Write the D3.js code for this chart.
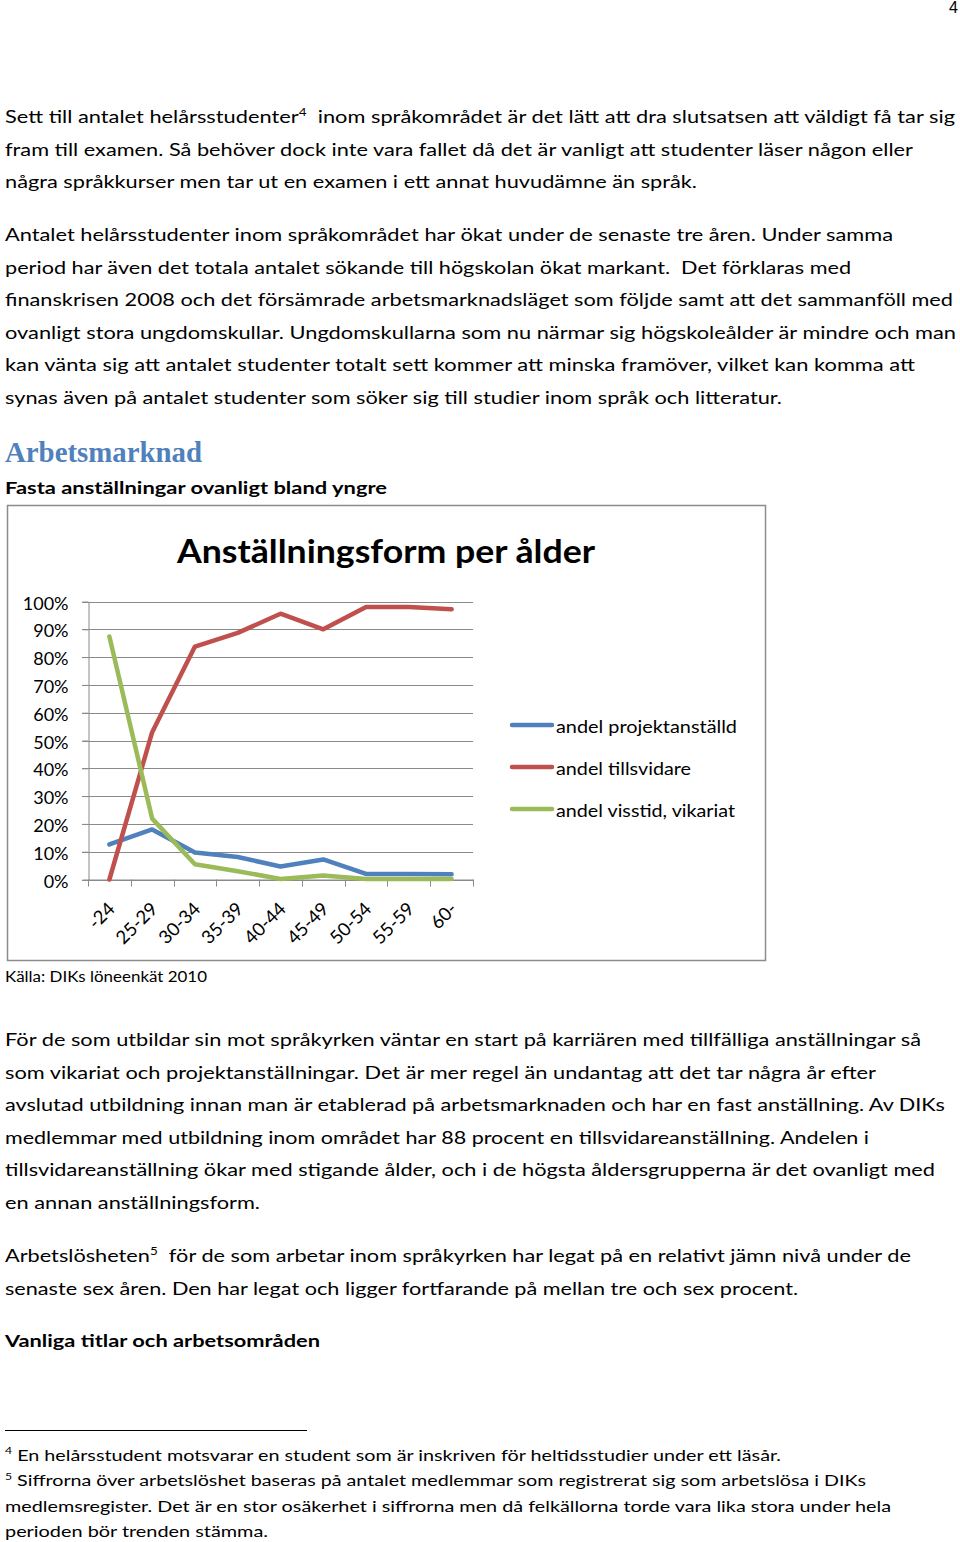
<!DOCTYPE html>
<html>
<head>
<meta charset="utf-8">
<script src="https://cdn.jsdelivr.net/npm/d3@7"></script>
<style>
  html, body { margin: 0; padding: 0; background: #fff; }
  svg { display: block; }
  text { white-space: pre; }
</style>
</head>
<body>
<svg id="page" width="960" height="1542"></svg>
<script>
// ---------------- DATA ----------------
const categories = ["-24", "25-29", "30-34", "35-39", "40-44", "45-49", "50-54", "55-59", "60-"];
const projektanstalld = [12.6, 18.0, 9.7, 8.1, 4.7, 7.2, 2.0, 2.0, 1.9];
const tillsvidare     = [0.0, 53.0, 83.8, 88.7, 95.6, 90.0, 98.0, 98.0, 97.2];
const visstid         = [87.4, 21.9, 5.5, 3.0, 0.2, 1.4, 0.2, 0.2, 0.2];
const seriesNames = ["andel projektanställd", "andel tillsvidare", "andel visstid, vikariat"];
const yTicks = [0, 10, 20, 30, 40, 50, 60, 70, 80, 90, 100];
const chartTitle = "Anställningsform per ålder";

// ---------------- PAGE TEXT ----------------
const para1 = [
  "Sett till antalet helårsstudenter^4  inom språkområdet är det lätt att dra slutsatsen att väldigt få tar sig",
  "fram till examen. Så behöver dock inte vara fallet då det är vanligt att studenter läser någon eller",
  "några språkkurser men tar ut en examen i ett annat huvudämne än språk."
];
const para2 = [
  "Antalet helårsstudenter inom språkområdet har ökat under de senaste tre åren. Under samma",
  "period har även det totala antalet sökande till högskolan ökat markant.  Det förklaras med",
  "finanskrisen 2008 och det försämrade arbetsmarknadsläget som följde samt att det sammanföll med",
  "ovanligt stora ungdomskullar. Ungdomskullarna som nu närmar sig högskoleålder är mindre och man",
  "kan vänta sig att antalet studenter totalt sett kommer att minska framöver, vilket kan komma att",
  "synas även på antalet studenter som söker sig till studier inom språk och litteratur."
];
const para3 = [
  "För de som utbildar sin mot språkyrken väntar en start på karriären med tillfälliga anställningar så",
  "som vikariat och projektanställningar. Det är mer regel än undantag att det tar några år efter",
  "avslutad utbildning innan man är etablerad på arbetsmarknaden och har en fast anställning. Av DIKs",
  "medlemmar med utbildning inom området har 88 procent en tillsvidareanställning. Andelen i",
  "tillsvidareanställning ökar med stigande ålder, och i de högsta åldersgrupperna är det ovanligt med",
  "en annan anställningsform."
];
const para4 = [
  "Arbetslösheten^5  för de som arbetar inom språkyrken har legat på en relativt jämn nivå under de",
  "senaste sex åren. Den har legat och ligger fortfarande på mellan tre och sex procent."
];
const footnotes = [
  "^4 En helårsstudent motsvarar en student som är inskriven för heltidsstudier under ett läsår.",
  "^5 Siffrorna över arbetslöshet baseras på antalet medlemmar som registrerat sig som arbetslösa i DIKs",
  "medlemsregister. Det är en stor osäkerhet i siffrorna men då felkällorna torde vara lika stora under hela",
  "perioden bör trenden stämma."
];

// ---------------- LAYOUT ----------------
const para1Ends = [955, 913, 697];
const para2Ends = [893, 851, 953, 956, 915, 782];
const para3Ends = [921, 876, 945, 869, 935, 260];
const para4Ends = [911, 798];
const footEnds  = [781, 866, 891, 268];

const bodyFont = "Lato, 'Open Sans', sans-serif";
const svg = d3.select("#page");
svg.append("rect").attr("width", 960).attr("height", 1542).attr("fill", "#fff");

function textLine(str, x, y, endX, size, weight, fill, family) {
  const t = svg.append("text")
    .attr("x", x).attr("y", y)
    .attr("font-family", family || bodyFont)
    .attr("font-size", size)
    .attr("font-weight", weight || "normal")
    .attr("fill", fill || "#000");
  const parts = str.split(/\^(\d)/);
  let shifted = false;
  parts.forEach((p, i) => {
    if (p === "") return;
    if (i % 2 === 1) {
      t.append("tspan").attr("font-size", size * 0.62).attr("dy", -size * 0.42).text(p);
      shifted = true;
    } else {
      const ts = t.append("tspan").text(p);
      if (shifted) { ts.attr("dy", size * 0.42); shifted = false; }
    }
  });
  if (endX) t.attr("textLength", endX - x).attr("lengthAdjust", "spacingAndGlyphs");
  return t;
}

function paragraph(lines, ends, y0, step, size) {
  lines.forEach((l, i) => textLine(l, 5, y0 + i * step, ends[i], size));
}

// page number
svg.append("text").attr("x", 958).attr("y", 13).attr("text-anchor", "end")
  .attr("font-family", "'Liberation Sans', Arial, sans-serif").attr("font-size", 16).text("4");

paragraph(para1, para1Ends, 123, 32.5, 17.5);
paragraph(para2, para2Ends, 241, 32.5, 17.5);

textLine("Arbetsmarknad", 5, 462, 202, 29, "bold", "#4F81BD", "'Liberation Serif', 'DejaVu Serif', serif");
textLine("Fasta anställningar ovanligt bland yngre", 5, 494, 387, 17.5, "bold");

// ---------------- CHART ----------------
svg.append("rect").attr("x", 7.5).attr("y", 505.5).attr("width", 758).attr("height", 455)
  .attr("fill", "#fff").attr("stroke", "#8c8c8c").attr("stroke-width", 1.5);

textLine(chartTitle, 177, 563, 595, 32, "bold");

const x = d3.scaleBand().domain(categories).range([88, 473]);
const y = d3.scaleLinear().domain([0, 100]).range([879.5, 601.5]);
const cx = c => x(c) + x.bandwidth() / 2;

const chart = svg.append("g");

// gridlines
chart.append("g").selectAll("line").data(yTicks).join("line")
  .attr("x1", 82).attr("x2", 473)
  .attr("y1", d => Math.round(y(d)) + 0.5).attr("y2", d => Math.round(y(d)) + 0.5)
  .attr("stroke", "#8a8a8a").attr("stroke-width", 1);

// y axis
const yAxis = chart.append("g").attr("transform", "translate(88.5,0)")
  .call(d3.axisLeft(y).tickValues(yTicks).tickFormat(d => d + "%").tickSize(6).tickSizeOuter(0).tickPadding(14));
yAxis.select(".domain").attr("stroke", "#8a8a8a");
yAxis.selectAll(".tick line").attr("stroke", "#8a8a8a");
yAxis.selectAll(".tick text").attr("font-family", bodyFont).attr("font-size", 18)
  .attr("fill", "#000").attr("dy", "0.42em");

// x axis
const xAxis = chart.append("g").attr("transform", "translate(0,879.5)")
  .call(d3.axisBottom(x).tickSize(0).tickSizeOuter(0).tickPadding(0));
xAxis.select(".domain").attr("stroke", "#8a8a8a");
xAxis.selectAll(".tick text")
  .attr("font-family", bodyFont).attr("font-size", 18.5).attr("fill", "#000")
  .attr("text-anchor", "end")
  .attr("transform", "translate(2,26) rotate(-45)")
  .attr("dy", "0.35em").attr("y", 0);
const bounds = categories.map(c => x(c)).concat([x.range()[1]]);
xAxis.append("g").selectAll("line").data(bounds).join("line")
  .attr("x1", d => Math.round(d) + 0.5).attr("x2", d => Math.round(d) + 0.5)
  .attr("y1", 0).attr("y2", 7).attr("stroke", "#8a8a8a");

// series
const seriesData = [projektanstalld, tillsvidare, visstid];
const colors = ["#4F81BD", "#C0504D", "#9BBB59"];
const line = d3.line().x((d, i) => cx(categories[i])).y(d => y(d));
chart.append("g").selectAll("path").data(seriesData).join("path")
  .attr("d", d => line(d))
  .attr("fill", "none")
  .attr("stroke", (d, i) => colors[i])
  .attr("stroke-width", 4.5)
  .attr("stroke-linejoin", "round")
  .attr("stroke-linecap", "round");

// legend
const legend = svg.append("g").attr("transform", "translate(510,725)");
const legendWidths = [181, 135, 179];
seriesNames.forEach((name, i) => {
  const g = legend.append("g").attr("transform", `translate(0,${i * 42})`);
  g.append("line").attr("x1", 2).attr("x2", 42).attr("y1", 0).attr("y2", 0)
    .attr("stroke", colors[i]).attr("stroke-width", 4.5).attr("stroke-linecap", "round");
  g.append("text").attr("x", 46).attr("y", 8)
    .attr("font-family", bodyFont).attr("font-size", 17).attr("fill", "#000")
    .attr("textLength", legendWidths[i]).attr("lengthAdjust", "spacingAndGlyphs")
    .text(name);
});

textLine("Källa: DIKs löneenkät 2010", 5, 982, 207, 14.5);

// ---------------- REST OF PAGE ----------------
paragraph(para3, para3Ends, 1046, 32.5, 17.5);
paragraph(para4, para4Ends, 1262, 32.5, 17.5);
textLine("Vanliga titlar och arbetsområden", 5, 1347, 320, 17.5, "bold");

svg.append("line").attr("x1", 5).attr("x2", 307).attr("y1", 1430.5).attr("y2", 1430.5)
  .attr("stroke", "#000").attr("stroke-width", 1);
footnotes.forEach((l, i) => textLine(l, 5, 1460.5 + i * 25.6, footEnds[i], 15));
</script>
</body>
</html>
